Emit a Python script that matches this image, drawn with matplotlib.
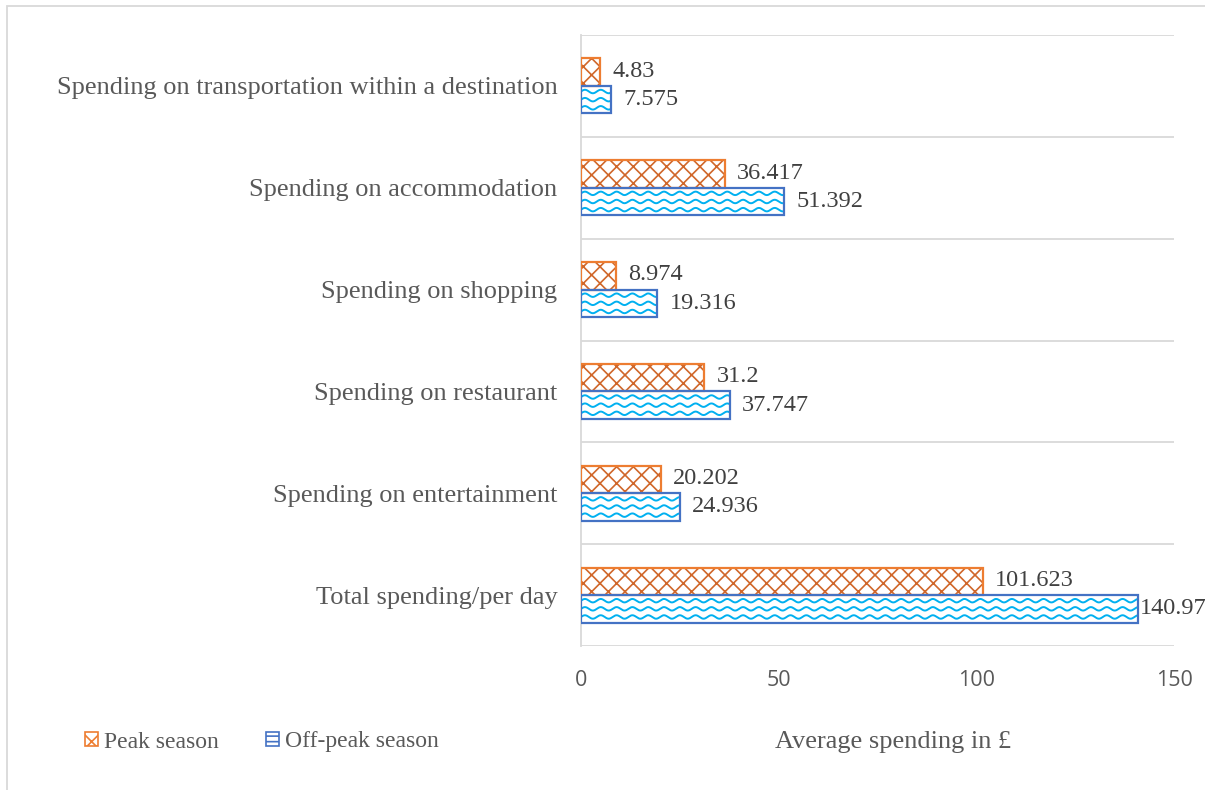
import numpy as np
import matplotlib
matplotlib.use("Agg")
import matplotlib.pyplot as plt
from matplotlib.patches import Patch, Rectangle

categories = [
    "Total spending/per day",
    "Spending on entertainment",
    "Spending on restaurant",
    "Spending on shopping",
    "Spending on accommodation",
    "Spending on transportation within a destination",
]
peak = [101.623, 20.202, 31.2, 8.974, 36.417, 4.83]
offpeak = [140.97, 24.936, 37.747, 19.316, 51.392, 7.575]
peak_labels = ["101.623", "20.202", "31.2", "8.974", "36.417", "4.83"]
offpeak_labels = ["140.97", "24.936", "37.747", "19.316", "51.392", "7.575"]
xticks = [0, 50, 100, 150]

ORANGE = "#ED7D31"
ORANGE_H = "#D0672A"
BLUE = "#4472C4"
BLUE_H = "#00B0F0"
SERIF = ["Liberation Serif", "DejaVu Serif"]
SANS = ["Open Sans", "DejaVu Sans"]

plt.rcParams["hatch.linewidth"] = 1.2

fig = plt.figure(figsize=(12.05, 7.9), dpi=100)
ax = fig.add_axes([581 / 1205, 1 - 646 / 790, 593 / 1205, 611 / 790])

y = np.arange(len(categories))
h = 0.27

# peak season: cross hatch
ax.barh(y + h / 2, peak, height=h, color="white", edgecolor=ORANGE_H,
        hatch="xx", linewidth=0, zorder=2)
ax.barh(y + h / 2, peak, height=h, fill=False, edgecolor=ORANGE,
        linewidth=1.6, zorder=3)

# off-peak season: white fill with wave pattern
bars = ax.barh(y - h / 2, offpeak, height=h, color="white", linewidth=0, zorder=2)
for b in bars:
    x0, y0, w, hh = b.get_x(), b.get_y(), b.get_width(), b.get_height()
    xs = np.linspace(x0, x0 + w, max(int(w * 8), 20))
    for k in range(3):
        yc = y0 + 0.055 + k * 0.08
        line, = ax.plot(xs, yc + 0.017 * np.sin(2 * np.pi * xs / 4.0),
                        color=BLUE_H, lw=1.4, zorder=2.5)
        line.set_clip_path(b)
ax.barh(y - h / 2, offpeak, height=h, fill=False, edgecolor=BLUE,
        linewidth=1.6, zorder=3)

# value labels
for yi, v, t in zip(y, peak, peak_labels):
    ax.annotate(t, (v, yi + h / 2), xytext=(12, 1), textcoords="offset pixels",
                va="center", ha="left", fontsize=17.5, color="#404040", family=SERIF)
for yi, v, t in zip(y, offpeak, offpeak_labels):
    off = 2 if v > 130 else 12
    ax.annotate(t, (v, yi - h / 2), xytext=(off, 0), textcoords="offset pixels",
                va="center", ha="left", fontsize=17.5, color="#404040", family=SERIF,
                annotation_clip=False)

ax.set_xlim(0, 150)
ax.set_ylim(-0.5, len(categories) - 0.5)
ax.set_xticks(xticks)
ax.set_xticklabels([str(t) for t in xticks], family=SANS, fontsize=15.5, color="#595959")
ax.set_yticks(y)
ax.set_yticklabels(categories, family=SERIF, fontsize=19, color="#595959")
ax.tick_params(axis="both", length=0)
ax.tick_params(axis="x", pad=17)
ax.tick_params(axis="y", pad=17)

# category separators
for yy in np.arange(-0.5, len(categories), 1.0):
    ax.axhline(yy, color="#D9D9D9", lw=1.3, zorder=1)
for s in ["top", "right", "bottom"]:
    ax.spines[s].set_visible(False)
ax.spines["left"].set_color("#D9D9D9")
ax.spines["left"].set_linewidth(1.3)

fig.text(893 / 1205, 1 - 742 / 790, "Average spending in \u00a3", ha="center",
         va="center", fontsize=19, color="#595959", family=SERIF)

handles = [
    Patch(facecolor="white", edgecolor=ORANGE, hatch="xx", linewidth=1.2),
    Patch(facecolor="white", edgecolor=BLUE, hatch="---", linewidth=1.2),
]
fig.legend(handles, ["Peak season", "Off-peak season"], loc="center left",
           bbox_to_anchor=(64 / 1205, 1 - 742 / 790), ncol=2, frameon=False,
           prop={"family": SERIF, "size": 17}, labelcolor="#595959",
           handlelength=0.55, handleheight=0.55, handletextpad=0.25, columnspacing=2.0)

# chart border
fig.add_artist(Rectangle((7 / 1205, -0.01), 1.05, 1 - 6 / 790 + 0.01,
                         transform=fig.transFigure, fill=False,
                         edgecolor="#D9D9D9", lw=1.3))

fig.savefig("out.png", dpi=100)
